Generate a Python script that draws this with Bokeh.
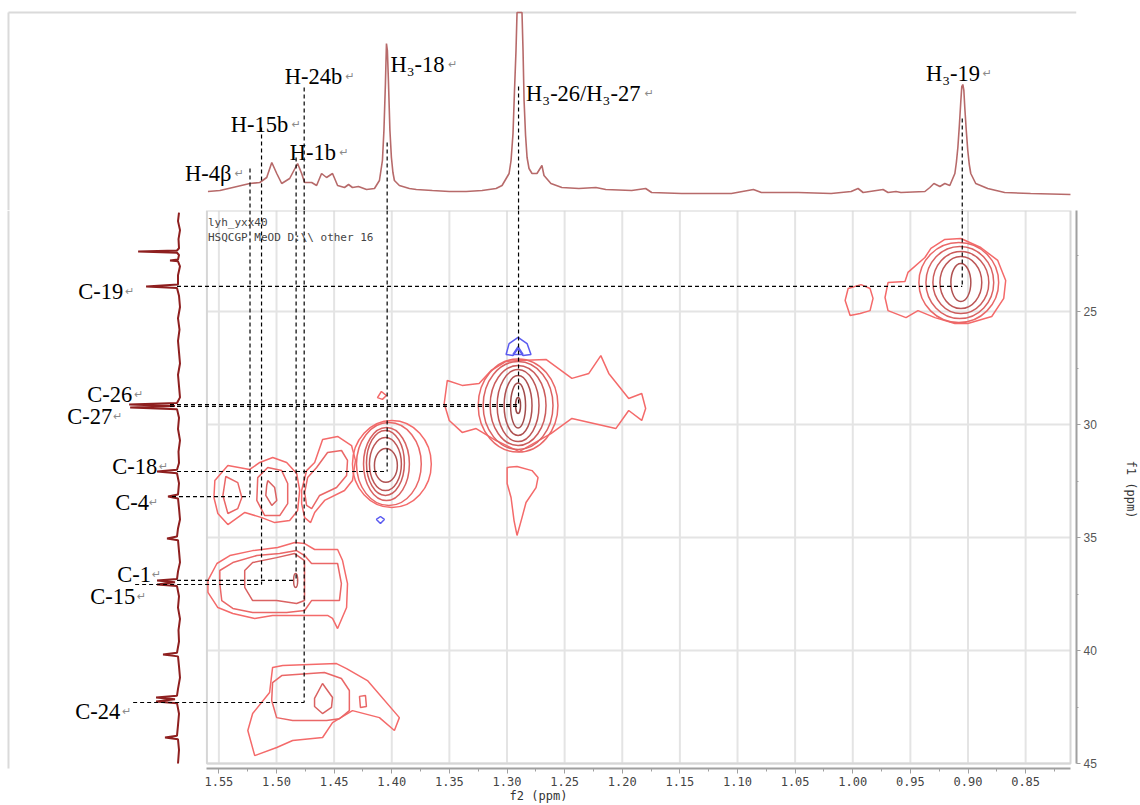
from bokeh.plotting import figure
from bokeh.layouts import column
from bokeh.models import Range1d, FixedTicker
from bokeh.core.properties import value
from bokeh.embed import file_html
from bokeh.resources import INLINE

# ======================= DATA =======================
# 1H projection (f2 trace on top): (ppm, intensity)
F2_POINTS = [
    (1.5595, -1), (1.5491, 0), (1.5379, 3), (1.5232, 7), (1.5145, 8), (1.5085, 13),
    (1.5041, 28), (1.4998, 17), (1.4955, 7), (1.4886, 12), (1.4817, 27), (1.4782, 17),
    (1.4756, 8), (1.4695, 8), (1.4652, 5), (1.4609, 17), (1.4566, 13), (1.4514, 17),
    (1.4470, 5), (1.4410, 3), (1.4375, 6), (1.4341, 3), (1.4289, 4), (1.4219, 1),
    (1.4150, 2), (1.4107, 10), (1.4081, 30), (1.4068, 60), (1.4055, 107), (1.4046, 147),
    (1.4038, 140), (1.4029, 110), (1.4016, 60), (1.4003, 33), (1.3990, 18), (1.3977, 10),
    (1.3934, 5), (1.3847, 2), (1.3787, 1), (1.3648, 0), (1.3501, -1), (1.3354, -1),
    (1.3216, 0), (1.3095, 2), (1.3043, 5), (1.2982, 17), (1.2965, 30), (1.2948, 57),
    (1.2935, 100), (1.2922, 140), (1.2913, 178), (1.2870, 178), (1.2861, 140), (1.2852, 90),
    (1.2839, 55), (1.2826, 33), (1.2809, 22), (1.2783, 17), (1.2740, 17), (1.2697, 25),
    (1.2679, 15), (1.2619, 7), (1.2524, 3), (1.2376, 2), (1.2229, 3), (1.2143, 1),
    (1.1918, 0), (1.1797, 2), (1.1745, -2), (1.1485, -3), (1.1053, -3), (1.0862, 1),
    (1.0793, -2), (1.0473, -2), (1.0187, -3), (1.0014, -1), (0.9954, 2), (0.9910, -2),
    (0.9737, 1), (0.9694, -2), (0.9625, -1), (0.9582, -2), (0.9374, -1), (0.9331, 3),
    (0.9296, 7), (0.9244, 4), (0.9201, 7), (0.9158, 5), (0.9114, 17), (0.9101, 28),
    (0.9088, 43), (0.9075, 65), (0.9062, 90), (0.9054, 104), (0.9045, 106), (0.9036, 100),
    (0.9028, 83), (0.9015, 60), (0.9002, 40), (0.8989, 26), (0.8976, 17), (0.8933, 7),
    (0.8829, 2), (0.8682, -2), (0.8457, -3), (0.8111, -4),
]
F2_PPM = [p[0] for p in F2_POINTS]
F2_INT = [p[1] for p in F2_POINTS]

# 13C projection (f1 trace on the left): (ppm, intensity)
F1_POINTS = [
    (20.62, 0), (21.0, 1), (21.4, -1), (21.8, 0.5), (22.2, 0), (22.30, 2), (22.35, 41),
    (22.40, 2), (22.5, 0), (22.70, 1), (22.74, 9), (22.78, 1), (23.0, -1), (23.4, 1),
    (23.80, 1), (23.89, 33), (23.96, 2), (24.3, 0), (24.8, -1), (25.3, 1), (25.8, -0.5),
    (26.3, 1), (26.8, 0), (27.3, -1), (27.8, 1), (28.3, 0), (28.8, -1), (29.05, 2),
    (29.12, 50), (29.18, 4), (29.25, 49), (29.32, 2), (29.7, 0), (30.2, 1), (30.7, -1),
    (31.2, 0.5), (31.7, 0), (32.0, 2), (32.08, 22), (32.16, 2), (32.6, 0), (33.1, 1),
    (33.19, 11), (33.27, 1), (33.7, 0), (34.2, -1), (34.6, 1), (34.96, 2), (35.04, 12),
    (35.12, 1), (35.6, 0), (36.1, -1), (36.5, 1), (36.84, 2), (36.90, 22), (36.98, 4),
    (37.08, 22), (37.15, 2), (37.6, 0), (38.1, 1), (38.6, -1), (39.1, 0.5), (39.6, 0),
    (40.1, 2), (40.18, 16), (40.26, 1), (40.7, 0), (41.2, -1), (41.7, 1), (42.0, 2),
    (42.08, 23), (42.16, 4), (42.26, 23), (42.33, 2), (42.8, 0), (43.3, 1), (43.77, 2),
    (43.85, 14), (43.93, 1), (44.4, 0), (45.0, 1),
]
F1_PPM = [p[0] for p in F1_POINTS]
F1_INT = [p[1] for p in F1_POINTS]

# assignments
H_LABELS = ["H-4β", "H-15b", "H-1b", "H-24b", "H₃-18", "H₃-26/H₃-27", "H₃-19"]
H_SHIFTS = [1.523, 1.513, 1.483, 1.476, 1.404, 1.290, 0.905]
C_LABELS = ["C-19", "C-26", "C-27", "C-18", "C-4", "C-1", "C-15", "C-24"]
C_SHIFTS = [23.89, 29.12, 29.20, 32.08, 33.19, 36.90, 37.08, 42.30]
C_PARTNER = ["H₃-19", "H₃-26/H₃-27", "H₃-26/H₃-27", "H₃-18", "H-4β", "H-1b", "H-15b", "H-24b"]

# axes
X_TICKS = [1.55, 1.50, 1.45, 1.40, 1.35, 1.30, 1.25, 1.20, 1.15, 1.10, 1.05, 1.00, 0.95, 0.90, 0.85]
X_TICK_LABELS = ["1.55", "1.50", "1.45", "1.40", "1.35", "1.30", "1.25", "1.20", "1.15",
                 "1.10", "1.05", "1.00", "0.95", "0.90", "0.85"]
X_MINOR = [1.525, 1.475, 1.425, 1.375, 1.325, 1.275, 1.225, 1.175, 1.125, 1.075, 1.025,
           0.975, 0.925, 0.875, 0.825]
Y_TICKS = [25, 30, 35, 40, 45]
Y_TICK_LABELS = ["25", "30", "35", "40", "45"]
Y_MINOR = [22.5, 27.5, 32.5, 37.5, 42.5]

HEADER_LINES = ["lyh_yxx40", "HSQCGP MeOD D:\\\\ other 16"]

# ---- positive contours: polygons (ppm, 13C ppm) with contour level ----
C19_OUTER = [(0.9201, 21.81), (0.9062, 21.77), (0.8889, 22.17), (0.8742, 22.74), (0.8673, 23.63),
             (0.8690, 24.42), (0.8794, 25.22), (0.9002, 25.53), (0.9114, 25.53), (0.9287, 25.27),
             (0.9434, 24.96), (0.9538, 25.27), (0.9694, 24.96), (0.9720, 24.38), (0.9694, 23.72),
             (0.9547, 23.67), (0.9521, 23.27), (0.9374, 22.61), (0.9322, 22.21)]
C24_SIDE = [(1.0040, 23.98), (0.9928, 23.81), (0.9850, 23.98), (0.9824, 24.42), (0.9850, 24.96),
            (0.9936, 25.09), (1.0023, 25.18), (1.0066, 24.51)]
C29_OUTER = [(1.3518, 28.05), (1.3389, 28.27), (1.3242, 28.19), (1.3138, 27.61), (1.3008, 27.21),
             (1.2895, 27.17), (1.2662, 27.12), (1.2437, 27.96), (1.2290, 27.74), (1.2186, 26.95),
             (1.2117, 27.74), (1.1944, 28.85), (1.1831, 28.63), (1.1797, 29.29), (1.1831, 29.82),
             (1.1944, 29.38), (1.2056, 30.18), (1.2437, 29.73), (1.2619, 30.40), (1.2895, 31.20),
             (1.3095, 30.71), (1.3268, 30.18), (1.3389, 30.35), (1.3501, 29.82), (1.3545, 29.07)]
C33_TAIL = [(1.2999, 31.90), (1.2913, 31.86), (1.2783, 32.04), (1.2731, 32.35), (1.2748, 32.79),
            (1.2835, 33.45), (1.2870, 34.12), (1.2913, 34.91), (1.2939, 34.25), (1.2965, 33.23),
            (1.2999, 32.61)]
DOT_141 = [(1.4124, 28.81), (1.4090, 28.54), (1.4046, 28.72), (1.4081, 28.89)]
MID_OUTER = [(1.4782, 32.92), (1.4739, 32.04), (1.4669, 31.68), (1.4600, 30.66), (1.4470, 30.53),
             (1.4349, 30.93), (1.4315, 31.59), (1.4341, 32.48), (1.4410, 32.92), (1.4583, 33.36),
             (1.4669, 33.89), (1.4704, 34.34), (1.4756, 34.12), (1.4782, 33.50)]
MID_INNER = [(1.4756, 33.01), (1.4730, 32.35), (1.4652, 31.90), (1.4557, 31.24), (1.4436, 31.15),
             (1.4384, 31.59), (1.4392, 32.26), (1.4479, 32.79), (1.4626, 33.14), (1.4695, 33.72),
             (1.4739, 33.58)]
LEFT_OUTER = [(1.5535, 32.48), (1.5422, 31.81), (1.5232, 31.99), (1.5145, 31.68), (1.5033, 31.46),
              (1.4912, 31.68), (1.4825, 32.17), (1.4799, 32.92), (1.4817, 33.81), (1.4886, 34.25),
              (1.5016, 34.34), (1.5128, 34.12), (1.5275, 33.89), (1.5422, 34.43), (1.5509, 33.94),
              (1.5543, 33.23)]
L153_INNER = [(1.5440, 32.30), (1.5336, 32.57), (1.5301, 33.23), (1.5336, 33.72), (1.5422, 33.94),
              (1.5465, 33.14)]
L150_RING = [(1.5163, 32.35), (1.5076, 31.90), (1.4955, 32.04), (1.4903, 32.61), (1.4903, 33.50),
             (1.4972, 34.03), (1.5102, 34.03), (1.5171, 33.36)]
L150_INNER = [(1.5076, 32.48), (1.5016, 32.79), (1.4998, 33.36), (1.5041, 33.58), (1.5093, 33.14),
              (1.5085, 32.70)]
C37_OUTER = [(1.5595, 36.90), (1.5517, 36.15), (1.5405, 35.80), (1.5206, 35.58), (1.4990, 35.44),
             (1.4842, 35.22), (1.4756, 35.27), (1.4669, 35.53), (1.4470, 35.53), (1.4427, 36.02),
             (1.4384, 37.04), (1.4392, 38.10), (1.4470, 39.03), (1.4514, 38.58), (1.4557, 38.45),
             (1.4730, 38.45), (1.5034, 38.45), (1.5189, 38.58), (1.5379, 38.36), (1.5509, 38.10),
             (1.5595, 37.43)]
C37_MID = [(1.5492, 36.46), (1.5379, 36.11), (1.5171, 35.80), (1.4973, 35.71), (1.4826, 35.58),
           (1.4756, 35.80), (1.4696, 36.15), (1.4470, 36.15), (1.4437, 37.04), (1.4454, 37.79),
           (1.4696, 37.79), (1.4756, 38.23), (1.4912, 38.32), (1.5207, 38.32), (1.5379, 38.14),
           (1.5475, 37.79), (1.5492, 37.04)]
C37_INNER = [(1.5276, 36.46), (1.5207, 36.11), (1.4999, 35.89), (1.4843, 35.71), (1.4757, 36.02),
             (1.4757, 37.79), (1.4826, 37.92), (1.4999, 37.79), (1.5207, 37.79), (1.5276, 37.21)]
C42_OUTER = [(1.5189, 44.65), (1.5249, 43.54), (1.5207, 42.79), (1.5060, 41.86), (1.5034, 40.75),
             (1.4946, 40.66), (1.4479, 40.58), (1.4392, 40.80), (1.4211, 41.33), (1.3934, 42.97),
             (1.3977, 43.54), (1.4107, 42.97), (1.4341, 42.66), (1.4514, 43.19), (1.4600, 43.85),
             (1.4860, 43.98), (1.4998, 44.29)]
C42_MID = [(1.5034, 41.42), (1.4955, 41.11), (1.4584, 40.97), (1.4437, 41.24), (1.4368, 41.77),
           (1.4368, 42.66), (1.4454, 43.02), (1.4566, 43.10), (1.4860, 43.10), (1.4999, 42.97),
           (1.5042, 42.21)]
C42_INNER = [(1.4670, 42.12), (1.4601, 41.46), (1.4514, 42.08), (1.4523, 42.52), (1.4601, 42.79),
             (1.4670, 42.48)]
C42_SMALL = [(1.4280, 42.03), (1.4228, 41.99), (1.4220, 42.48), (1.4272, 42.52)]

POS_POLYGONS = [
    (C19_OUTER, 1), (C24_SIDE, 1), (C29_OUTER, 1), (C33_TAIL, 1), (DOT_141, 1),
    (MID_OUTER, 1), (MID_INNER, 2), (LEFT_OUTER, 1), (L153_INNER, 2), (L150_RING, 2),
    (L150_INNER, 3), (C37_OUTER, 1), (C37_MID, 2), (C37_INNER, 3), (C42_OUTER, 1),
    (C42_MID, 2), (C42_INNER, 3), (C42_SMALL, 2),
]

# nested (elliptical) contour rings: centre ppm, centre 13C, width (ppm), height (13C ppm), level
RING_X = [0.9080, 0.9071, 0.9062, 0.9062, 0.9062,
          1.2904, 1.2904, 1.2904, 1.2904, 1.2904, 1.2904, 1.2904,
          1.3999, 1.4025, 1.4046, 1.4055, 1.4055, 1.4051,
          1.4834]
RING_Y = [23.72, 23.72, 23.72, 23.72, 23.72,
          29.16, 29.16, 29.16, 29.16, 29.16, 29.16, 29.16,
          31.75, 31.75, 31.75, 31.70, 31.75, 31.81,
          36.90]
RING_W = [0.0692, 0.0588, 0.0485, 0.0363, 0.0173,
          0.0692, 0.0606, 0.0485, 0.0363, 0.0242, 0.0130, 0.0043,
          0.0684, 0.0562, 0.0398, 0.0329, 0.0277, 0.0199,
          0.0035]
RING_H = [3.54, 3.19, 2.74, 2.30, 1.68,
          4.12, 3.89, 3.54, 3.19, 2.65, 1.99, 0.71,
          3.85, 3.67, 3.23, 2.88, 2.35, 1.50,
          0.62]
RING_LEVEL = [2, 3, 4, 5, 6,
              2, 3, 4, 5, 6, 7, 8,
              1, 2, 3, 4, 5, 6,
              5]

# negative contours (blue)
NEG_ARCH = [(1.3008, 26.90), (1.2982, 26.42), (1.2904, 26.15), (1.2826, 26.42), (1.2792, 26.90),
            (1.2861, 26.95), (1.2904, 26.64), (1.2948, 26.95)]
NEG_TRI = [(1.2948, 26.90), (1.2904, 26.55), (1.2861, 26.90)]
NEG_DOT = [(1.4133, 34.20), (1.4098, 34.07), (1.4064, 34.20), (1.4098, 34.38)]
NEG_POLYGONS = [NEG_ARCH, NEG_TRI, NEG_DOT]

# ======================= LAYOUT / STYLE =======================
W, H = 1140, 805
TOP_H = 210
MAIN_H = H - TOP_H
FRAME_RIGHT = 1079
BORDER_BOTTOM = 37
PX_PER_PPM = 1155.7
PX_PER_C = 22.6
X0 = 1.55 + 219 / PX_PER_PPM
PROJ_BASE_PX = 179


def hx(px):
    return X0 - px / PX_PER_PPM


def cy(py):
    return 25 + (py - 311) / PX_PER_C


def iy(py):
    return 190 - py


LEVEL_COLORS = {1: "#f46a6a", 2: "#ea6767", 3: "#da6262", 4: "#cb5c5c", 5: "#bd5656",
                6: "#af5151", 7: "#a24c4c", 8: "#964646"}
NEG_COLOR = "#5b5bf0"
TRACE_TOP = "#b76a6a"
TRACE_LEFT = "#8e1f1f"
GRID_COLOR = "#e4e4e4"
AXIS_COLOR = "#a0a0a0"
DOC_BORDER = "#dadada"
SERIF = value("Liberation Serif")
LABEL_SIZE = "22.5px"
RET_COLOR = "#8a8a8a"

H_LABEL_PX = [(185, 173), (231, 124), (290, 152), (285, 76), (391, 64), (527, 93), (928, 73)]
H_RET_PX = [(235, 173), (292, 124), (340, 152), (346, 76), (449, 64), (646, 93), (985, 73)]
H_LINE_TOP_PX = [168, 127, 157, 87, 142, 86, 118]
C_LABEL_PX = [(78, 291), (87, 394), (67, 416), (112, 466), (115, 502), (117, 574), (90, 596), (75, 711)]
C_RET_PX = [(125, 291), (134, 394), (113, 416), (159, 466), (149, 502), (152, 574), (137, 596), (122, 711)]
C_LINE_START_PX = [177, 170, 170, 177, 172, 177, 135, 133]

BOX_LEFT, BOX_RIGHT = hx(207), hx(1073)
BOX_TOP, BOX_BOTTOM = cy(210), cy(763)

x_shared = Range1d(hx(0), hx(FRAME_RIGHT))

# ======================= TOP (1H projection) =======================
top = figure(width=W, height=TOP_H, x_range=x_shared,
             y_range=Range1d(iy(TOP_H), iy(0)), output_backend="svg",
             toolbar_location=None, x_axis_location=None, y_axis_location=None,
             min_border=0, min_border_right=W - FRAME_RIGHT, outline_line_color=None)
top.grid.grid_line_color = None

top.segment(x0=[hx(8), hx(8)], y0=[iy(12), iy(12)], x1=[hx(FRAME_RIGHT), hx(8)], y1=[iy(12), iy(TOP_H)],
            line_color=DOC_BORDER, line_width=2)
top.line(F2_PPM, F2_INT, line_color=TRACE_TOP, line_width=1.6)

top.segment(x0=H_SHIFTS, y0=[iy(p) for p in H_LINE_TOP_PX], x1=H_SHIFTS,
            y1=[iy(TOP_H)] * len(H_SHIFTS), line_color="black", line_width=1.2, line_dash="4 3")

top.text(x=[hx(p[0]) for p in H_LABEL_PX], y=[iy(p[1]) for p in H_LABEL_PX], text=H_LABELS,
         text_font=SERIF, text_font_size=LABEL_SIZE, text_color="black",
         text_align="left", text_baseline="alphabetic")
top.text(x=[hx(p[0]) for p in H_RET_PX], y=[iy(p[1]) for p in H_RET_PX], text=["↵"] * len(H_RET_PX),
         text_font=value("DejaVu Sans"), text_font_size="11px", text_color=RET_COLOR,
         text_align="left", text_baseline="alphabetic")

# ======================= MAIN (2D HSQC) =======================
main = figure(width=W, height=MAIN_H, x_range=x_shared,
              y_range=Range1d(cy(TOP_H + MAIN_H - BORDER_BOTTOM), cy(TOP_H)),
              y_axis_location="right", output_backend="svg", toolbar_location=None,
              min_border_left=0, min_border_top=0, min_border_right=W - FRAME_RIGHT,
              min_border_bottom=BORDER_BOTTOM, outline_line_color=None)
main.extra_x_ranges = {"proj": Range1d(PROJ_BASE_PX, PROJ_BASE_PX - FRAME_RIGHT)}
main.xgrid.visible = False
main.ygrid.visible = False

# document border
main.segment(x0=[hx(8)], y0=[cy(TOP_H)], x1=[hx(8)], y1=[cy(H)], line_color=DOC_BORDER, line_width=2)

# grid and data box
main.segment(x0=X_TICKS, y0=[BOX_TOP] * len(X_TICKS), x1=X_TICKS, y1=[BOX_BOTTOM] * len(X_TICKS),
             line_color=GRID_COLOR, line_width=2)
main.segment(x0=[BOX_LEFT] * len(Y_TICKS), y0=Y_TICKS, x1=[BOX_RIGHT] * len(Y_TICKS), y1=Y_TICKS,
             line_color=GRID_COLOR, line_width=2)
main.quad(left=[BOX_LEFT], right=[BOX_RIGHT], top=[BOX_TOP], bottom=[BOX_BOTTOM],
          fill_color=None, line_color="#d6d6d6", line_width=2)

# header text
main.text(x=[hx(208)] * 2, y=[cy(222), cy(237)], text=HEADER_LINES,
          text_font=value("DejaVu Sans Mono"), text_font_size="11px", text_color="#444444",
          text_align="left", text_baseline="alphabetic")

# contours
main.patches(xs=[[p[0] for p in poly] for poly, lev in POS_POLYGONS],
             ys=[[p[1] for p in poly] for poly, lev in POS_POLYGONS],
             fill_color=None, line_color=[LEVEL_COLORS[lev] for poly, lev in POS_POLYGONS],
             line_width=1.5)
main.ellipse(x=RING_X, y=RING_Y, width=RING_W, height=RING_H, fill_color=None,
             line_color=[LEVEL_COLORS[l] for l in RING_LEVEL], line_width=1.5)
main.patches(xs=[[p[0] for p in poly] for poly in NEG_POLYGONS],
             ys=[[p[1] for p in poly] for poly in NEG_POLYGONS],
             fill_color=None, line_color=NEG_COLOR, line_width=1.5)

# 13C projection
main.line(F1_INT, F1_PPM, x_range_name="proj", line_color=TRACE_LEFT, line_width=2)

# correlation guides
h_index = {lab: i for i, lab in enumerate(H_LABELS)}
v_end = [max(C_SHIFTS[j] for j, p in enumerate(C_PARTNER) if p == lab) for lab in H_LABELS]
main.segment(x0=H_SHIFTS, y0=[cy(TOP_H)] * len(H_SHIFTS), x1=H_SHIFTS, y1=v_end,
             line_color="black", line_width=1.2, line_dash="4 3")
main.segment(x0=[hx(p) for p in C_LINE_START_PX], y0=C_SHIFTS,
             x1=[H_SHIFTS[h_index[p]] for p in C_PARTNER], y1=C_SHIFTS,
             line_color="black", line_width=1.2, line_dash="4 3")

main.text(x=[hx(p[0]) for p in C_LABEL_PX], y=[cy(p[1]) for p in C_LABEL_PX], text=C_LABELS,
          text_font=SERIF, text_font_size=LABEL_SIZE, text_color="black",
          text_align="left", text_baseline="alphabetic")
main.text(x=[hx(p[0]) for p in C_RET_PX], y=[cy(p[1]) for p in C_RET_PX], text=["↵"] * len(C_RET_PX),
          text_font=value("DejaVu Sans"), text_font_size="11px", text_color=RET_COLOR,
          text_align="left", text_baseline="alphabetic")

# axes
xa = main.xaxis[0]
xa.ticker = FixedTicker(ticks=X_TICKS, minor_ticks=X_MINOR)
xa.major_label_overrides = dict(zip(X_TICKS, X_TICK_LABELS))
xa.bounds = (BOX_RIGHT, BOX_LEFT)
xa.axis_label = "f2 (ppm)"
ya = main.yaxis[0]
ya.ticker = FixedTicker(ticks=Y_TICKS, minor_ticks=Y_MINOR)
ya.major_label_overrides = dict(zip(Y_TICKS, Y_TICK_LABELS))
ya.bounds = (BOX_TOP, BOX_BOTTOM)
ya.axis_label = "f1 (ppm)"

for ax in (xa, ya):
    ax.axis_line_color = AXIS_COLOR
    ax.axis_line_width = 2
    ax.major_tick_line_color = AXIS_COLOR
    ax.minor_tick_line_color = AXIS_COLOR
    ax.major_tick_in = 0
    ax.minor_tick_in = 0
    ax.major_label_standoff = 3
    ax.axis_label_text_font_style = "normal"
    ax.axis_label_text_font_size = "12px"
    ax.axis_label_text_color = "#333333"

xa.major_tick_out = 5
xa.minor_tick_out = 3
xa.major_label_text_font = "DejaVu Sans Mono"
xa.major_label_text_font_size = "12px"
xa.major_label_text_color = "#444444"
xa.axis_label_text_font = "DejaVu Sans Mono"
xa.axis_label_standoff = 0

ya.major_tick_out = 4
ya.minor_tick_out = 2
ya.major_label_text_font = "Liberation Sans"
ya.major_label_text_font_size = "12px"
ya.major_label_text_color = "#555555"
ya.axis_label_text_font = "DejaVu Sans Mono"
ya.axis_label_standoff = 24

layout = column(top, main, spacing=0)
open("out.html", "w").write(file_html(layout, INLINE))
